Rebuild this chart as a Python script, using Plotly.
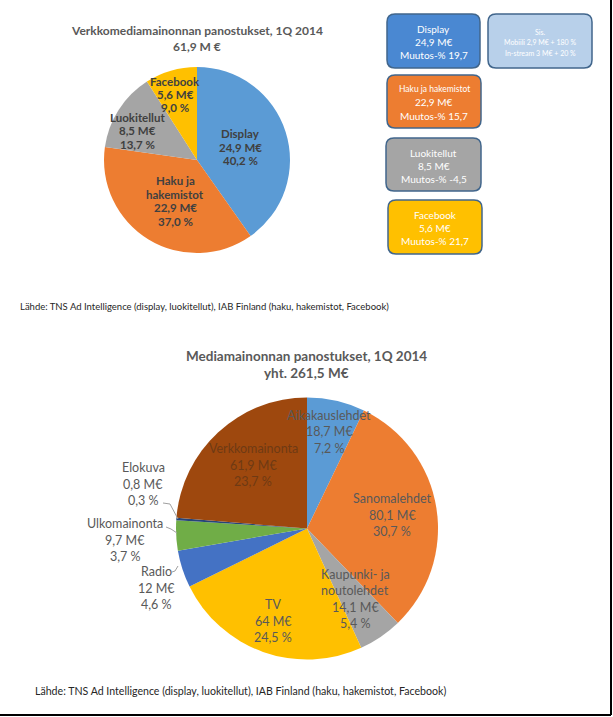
"""Two pies of Finnish media ad spend in 1Q 2014 (online split + all media),
with the online segments' year-on-year changes in rounded boxes on the side."""

import plotly.graph_objects as go

# --- data -------------------------------------------------------------------
online_labels = ["Display", "Haku ja<br>hakemistot", "Luokitellut", "Facebook"]
online_box_names = ["Display", "Haku ja hakemistot", "Luokitellut", "Facebook"]
online_values = [24.9, 22.9, 8.5, 5.6]          # M€
online_shares = [40.2, 37.0, 13.7, 9.0]         # %
online_changes = [19.7, 15.7, -4.5, 21.7]       # muutos-%
online_total = 61.9

display_split = ["Sis.", "Mobiili 2,9 M€ + 180 %", "In-stream 3 M€ + 20 %"]

media_labels = ["Aikakauslehdet", "Sanomalehdet", "Kaupunki- ja<br>noutolehdet",
                "TV", "Radio", "Ulkomainonta", "Elokuva", "Verkkomainonta"]
media_values = [18.7, 80.1, 14.1, 64, 12, 9.7, 0.8, 61.9]     # M€
media_shares = [7.2, 30.7, 5.4, 24.5, 4.6, 3.7, 0.3, 23.7]    # %
media_total = 261.5

source_note = ("Lähde: TNS Ad Intelligence (display, luokitellut), "
               "IAB Finland (haku, hakemistot, Facebook)")

# --- styling ----------------------------------------------------------------
W, H = 613, 717
FONT = "Lato"
online_colors = ["#5B9BD5", "#ED7D31", "#A5A5A5", "#FFC000"]
box_fills = ["#4A88D2", "#ED7D31", "#A5A5A5", "#FFC000"]
media_colors = ["#5B9BD5", "#ED7D31", "#A5A5A5", "#FFC000",
                "#4472C4", "#70AD47", "#264478", "#9E480E"]
media_text_colors = ["#595959"] * 7 + ["#6E3A14"]

# label centres in page pixels (x, y)
online_label_pos = [(240, 147.5), (175, 201), (137, 131), (175, 94.5)]
media_label_pos = [(329, 431.5), (392, 515), (355, 599), (273, 621),
                   (156, 588), (125, 540), (143, 484), (253, 465)]
# boxes: x0, y0, x1, y1 in page pixels
box_geom = [(387, 14, 480, 68), (387, 75, 481, 128),
            (386, 138, 481, 191), (388, 200, 482, 254)]
sis_geom = (488, 14, 592, 68)


def px(x):
    return x / W


def py(y):
    return 1 - y / H


def num(v):
    return f"{v:g}".replace(".", ",")


def pct(v):
    return f"{v:.1f}".replace(".", ",") + " %"


def rounded_box(x0, y0, x1, y1, r=8):
    rx, ry = r / W, r / H
    X0, X1, T, B = px(x0), px(x1), py(y0), py(y1)
    return (f"M {X0+rx},{T} L {X1-rx},{T} Q {X1},{T} {X1},{T-ry} "
            f"L {X1},{B+ry} Q {X1},{B} {X1-rx},{B} L {X0+rx},{B} "
            f"Q {X0},{B} {X0},{B+ry} L {X0},{T-ry} Q {X0},{T} {X0+rx},{T} Z")


ann = []
shapes = []


def text_block(x, cy, lines, spacing, font, xanchor="center"):
    """One annotation per line so the line spacing can be set exactly."""
    n = len(lines)
    for i, t in enumerate(lines):
        if isinstance(t, tuple):
            t, size = t
            f = dict(font, size=size)
        else:
            f = font
        ann.append(dict(x=px(x), y=py(cy + (i - (n - 1) / 2) * spacing),
                        text=t, font=f, xanchor=xanchor))


fig = go.Figure()

fig.add_trace(go.Pie(
    labels=online_box_names, values=online_values, sort=False,
    direction="clockwise", rotation=0,
    marker=dict(colors=online_colors, line=dict(width=0)),
    textinfo="none", hoverinfo="label+value", showlegend=False,
    domain=dict(x=[px(104), px(290)], y=[py(253), py(67)]),
))
fig.add_trace(go.Pie(
    labels=[l.replace("<br>", " ") for l in media_labels], values=media_values,
    sort=False, direction="clockwise", rotation=0,
    marker=dict(colors=media_colors, line=dict(width=0)),
    textinfo="none", hoverinfo="label+value", showlegend=False,
    domain=dict(x=[px(176), px(438)], y=[py(660), py(397)]),
))

# titles
text_block(197, 38, ["Verkkomediamainonnan panostukset, 1Q 2014",
                     f"{num(online_total)} M €"], 16,
           dict(size=12, color="#595959", family=FONT, weight="bold"))
text_block(307, 364.5, ["Mediamainonnan panostukset, 1Q 2014",
                        f"yht. {num(media_total)} M€"], 17,
           dict(size=13.5, color="#595959", family=FONT, weight="bold"))

# online pie labels
for lab, v, s, (x, y) in zip(online_labels, online_values, online_shares,
                             online_label_pos):
    text_block(x, y, lab.split("<br>") + [f"{num(v)} M€", pct(s)], 13.5,
               dict(size=11.5, color="#404040", family=FONT, weight="bold"))

# media pie labels
for lab, v, s, (x, y), c in zip(media_labels, media_values, media_shares,
                                media_label_pos, media_text_colors):
    text_block(x, y, lab.split("<br>") + [f"{num(v)} M€", pct(s)], 16.5,
               dict(size=12.5, color=c, family=FONT))

# leader lines for the small slices
for pts in [[(163, 503), (170, 504), (178, 519)],
            [(166, 527), (171, 529), (177, 533)],
            [(172, 572), (175, 571), (178, 566)]]:
    d = "M " + " L ".join(f"{px(x)},{py(y)}" for x, y in pts)
    shapes.append(dict(type="path", xref="paper", yref="paper", path=d,
                       line=dict(color="#A0A0A0", width=1)))

# change boxes
for name, v, ch, fill, (x0, y0, x1, y1) in zip(
        online_box_names, online_values, online_changes, box_fills, box_geom):
    shapes.append(dict(type="path", xref="paper", yref="paper",
                       path=rounded_box(x0, y0, x1, y1), fillcolor=fill,
                       line=dict(color="#41668C", width=1.5)))
    first_size = 8.5 if len(name) > 12 else 10
    text_block((x0 + x1) / 2, (y0 + y1) / 2 + 1,
               [(name, first_size), f"{num(v)} M€", f"Muutos-% {num(ch)}"],
               13, dict(size=10, color="white", family=FONT))

x0, y0, x1, y1 = sis_geom
shapes.append(dict(type="path", xref="paper", yref="paper",
                   path=rounded_box(x0, y0, x1, y1), fillcolor="#B8D0EA",
                   line=dict(color="#41668C", width=1.5)))
text_block((x0 + x1) / 2, 42.5, display_split, 10.5,
           dict(size=7, color="white", family=FONT))

# sources
text_block(18, 306, [source_note], 0,
           dict(size=9.5, color="#262626", family=FONT), xanchor="left")
text_block(33, 691, [source_note], 0,
           dict(size=10.6, color="#262626", family=FONT), xanchor="left")

for a in ann:
    a.update(xref="paper", yref="paper", showarrow=False, yanchor="middle")

# page frame (right and bottom edges)
shapes.append(dict(type="line", xref="paper", yref="paper",
                   x0=px(611), x1=px(611), y0=py(0), y1=py(715),
                   line=dict(color="black", width=2)))
shapes.append(dict(type="line", xref="paper", yref="paper",
                   x0=0, x1=px(611), y0=py(715), y1=py(715),
                   line=dict(color="black", width=2)))

fig.update_layout(
    width=W, height=H, margin=dict(l=0, r=0, t=0, b=0),
    paper_bgcolor="white", plot_bgcolor="white",
    annotations=ann, shapes=shapes, font=dict(family=FONT),
)

# the page's default 8px body margin would push the fixed-size figure off-grid
fig.write_html("out.html", config={"displayModeBar": False},
               post_script="document.body.style.margin='0px';")
